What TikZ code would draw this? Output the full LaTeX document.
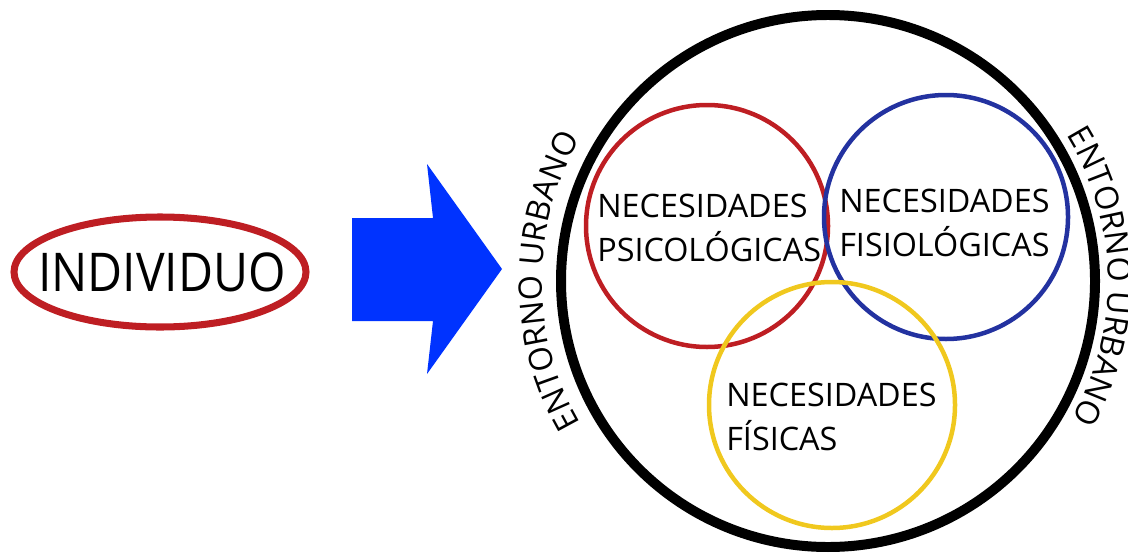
\documentclass[tikz,border=0pt]{standalone}
\usepackage{fontspec}
\setmainfont{Open Sans}
\usetikzlibrary{decorations.text}

\definecolor{rojo}{RGB}{190,30,35}
\definecolor{azul}{RGB}{35,50,160}
\definecolor{amarillo}{RGB}{240,200,30}
\definecolor{flecha}{RGB}{0,51,255}

\begin{document}
\begin{tikzpicture}[x=0.025cm, y=0.025cm,
        circulo/.style={line width=3.2pt},
        necesidad/.style={anchor=west, align=left, inner sep=0pt, font=\fontsize{23}{31.3}\selectfont},
        entorno/.style={decorate, decoration={text along path, text align=center,
            text={|\fontsize{23}{23}\selectfont|ENTORNO URBANO}}}]
    \useasboundingbox (0,0) rectangle (1128,555);

    \draw[rojo, line width=5pt] (160,283) ellipse [x radius=146, y radius=55];
    \node (individuo) [inner sep=0pt, font=\fontsize{38}{38}\selectfont] at (162,283) {\scalebox{0.9}[1]{INDIVIDUO}};

    \fill[flecha] (352,337) -- (433,337) -- (427,391) -- (502,286) -- (427,181) -- (433,234) -- (352,234) -- cycle;

    \draw[line width=7.1pt] (828,274) ellipse [x radius=267, y radius=266];
    \path[entorno] (828,274) ++(215:286 and 284) arc [start angle=215, end angle=145, x radius=286, y radius=284];
    \path[entorno] (828,274) ++(36:280 and 278) arc [start angle=36, end angle=-34, x radius=280, y radius=278];

    \draw[circulo, draw=rojo] (707,329) circle [radius=121];
    \draw[circulo, draw=azul] (946,338) circle [radius=122];
    \draw[circulo, draw=amarillo] (832,150) circle [radius=123];

    \node (psicologicas) [necesidad] at (597,327) {NECESIDADES\\PSICOLÓGICAS};
    \node (fisiologicas) [necesidad] at (839,332) {NECESIDADES\\FISIOLÓGICAS};
    \node (fisicas) [necesidad] at (726,138) {NECESIDADES\\FÍSICAS};
\end{tikzpicture}
\end{document}
